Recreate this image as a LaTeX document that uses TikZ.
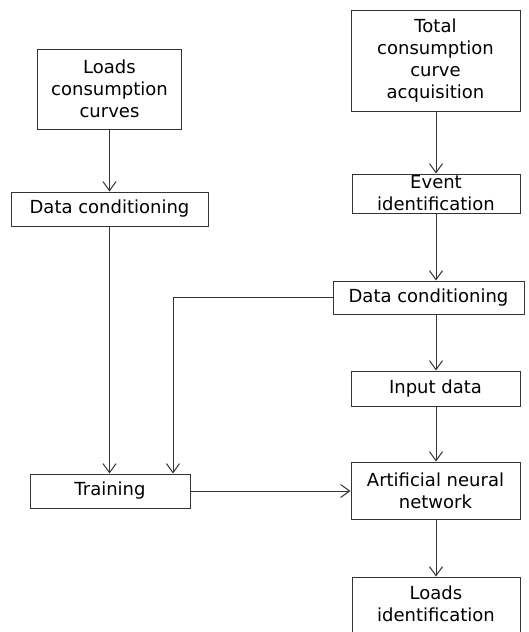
\documentclass[tikz,border=0pt]{standalone}
\usepackage{fontspec}
\setmainfont{DejaVu Sans}
\usetikzlibrary{arrows.meta}
\definecolor{ink}{HTML}{333333}
\tikzset{
  box/.style={draw=ink, line width=1pt, fill=white, inner sep=0pt, align=center,
    font=\fontsize{18}{22}\selectfont, text=black},
  arr/.style={draw=ink, line width=1pt, -{Straight Barb[length=9pt,width=13pt,line width=1pt]}},
}
\begin{document}
\begin{tikzpicture}[x=1pt,y=-1pt]
\useasboundingbox (0,0) rectangle (529,632);
\clip (0,0) rectangle (529,632);
% left column
\node[box, minimum width=144pt, minimum height=80pt] (lcc) at (109.5,89) {Loads\\consumption\\curves};
\node[box, minimum width=197pt, minimum height=34pt] (dcl) at (109.5,209) {Data conditioning};
\node[box, minimum width=160pt, minimum height=34pt] (trn) at (110,491) {Training};
% right column
\node[box, minimum width=169pt, minimum height=101pt] (tcc) at (435.5,60.5) {Total\\consumption\\curve\\acquisition};
\node[box, minimum width=168pt, minimum height=39pt] (ev) at (436,193.5) {Event\\identification};
\node[box, minimum width=191pt, minimum height=33pt] (dcr) at (428.5,297.5) {Data conditioning};
\node[box, minimum width=169pt, minimum height=35pt] (inp) at (435.5,388.5) {Input data};
\node[box, minimum width=169pt, minimum height=57pt] (ann) at (435.5,490.5) {Artificial neural\\network};
\node[box, minimum width=168pt, minimum height=76pt, text depth=22pt] (lid) at (436,615) {Loads\\identification};
% connectors
\draw[arr] (lcc) -- (lcc.south |- dcl.north);
\draw[arr] (dcl) -- (dcl.south |- trn.north);
\draw[arr] (tcc.south -| ev.north) -- (ev.north);
\draw[arr] (ev) -- (ev.south |- dcr.north);
\draw[arr] (ev.south |- dcr.south) -- (ev.south |- inp.north);
\draw[arr] (ev.south |- inp.south) -- (ev.south |- ann.north);
\draw[arr] (ev.south |- ann.south) -- (ev.south |- lid.north);
\draw[arr] (dcr.west) -| ([xshift=63pt]trn.north);
\draw[arr] (trn.east) -- (trn.east -| ann.west);
\end{tikzpicture}
\end{document}
